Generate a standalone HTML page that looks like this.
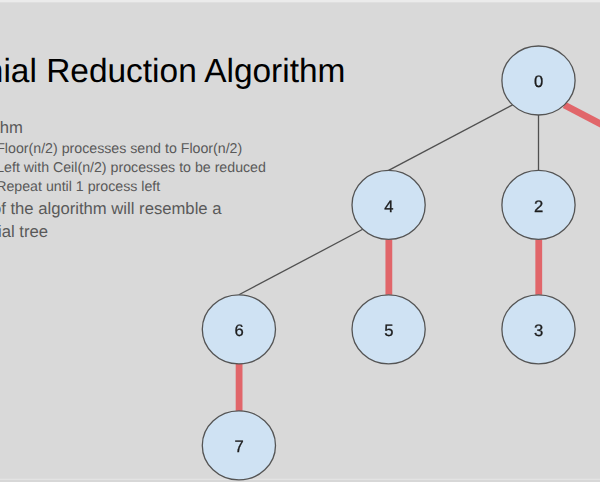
<!DOCTYPE html>
<html><head><meta charset="utf-8">
<style>
html,body{margin:0;padding:0;}
body{width:600px;height:482px;overflow:hidden;background:#d9d9d9;position:relative;font-family:"Liberation Sans",sans-serif;}
.t{position:absolute;white-space:nowrap;color:#595959;text-rendering:geometricPrecision;}
#title{color:#000;font-size:33.45px;right:254.6px;top:53.2px;line-height:38px;}
svg{position:absolute;left:0;top:0;}
.top{position:absolute;left:0;top:0;width:600px;height:3px;background:linear-gradient(#ebebeb 0,#ebebeb 2px,#dfdfdf 2px,#dfdfdf 3px);}
.bot{position:absolute;left:0;top:478px;width:600px;height:4px;background:linear-gradient(#dcdcdc 0,#dcdcdc 1px,#e3e3e3 1px,#e3e3e3 2px,#d7d7d7 2px,#d7d7d7 4px);}
</style></head><body>
<div class="top"></div>
<div class="t" id="title">Binomial Reduction Algorithm</div>
<div class="t" style="right:577px;top:117.6px;font-size:16.67px;line-height:19px;">Algorithm</div>
<div class="t" style="left:-3.8px;top:140.9px;font-size:14.2px;line-height:16px;">Floor(n/2) processes send to Floor(n/2)</div>
<div class="t" style="left:-3.8px;top:159.9px;font-size:14.2px;line-height:16px;">Left with Ceil(n/2) processes to be reduced</div>
<div class="t" style="left:-3.8px;top:178.9px;font-size:14.2px;line-height:16px;">Repeat until 1 process left</div>
<div class="t" style="right:378.5px;top:198.9px;font-size:16.67px;line-height:19px;">Shape of the algorithm will resemble a</div>
<div class="t" style="right:552px;top:222.2px;font-size:16.67px;line-height:19px;">binomial tree</div>
<div class="bot"></div>
<svg width="600" height="482" viewBox="0 0 600 482">
<defs><filter id="b" x="0" y="0" width="600" height="482" filterUnits="userSpaceOnUse"><feGaussianBlur stdDeviation="0.6"/></filter></defs>
<g stroke="#505050" stroke-width="1.3" fill="none">
<line x1="512.62" y1="104.90" x2="388.60" y2="170.40"/>
<line x1="538.50" y1="115.00" x2="538.50" y2="170.40"/>
<line x1="362.72" y1="229.30" x2="238.90" y2="294.80"/>
</g>
<g stroke="#e1666a" stroke-width="6.8" fill="none">
<line x1="564.38" y1="104.90" x2="688.50" y2="170.40"/>
<line x1="388.85" y1="239.40" x2="388.85" y2="294.80"/>
<line x1="538.75" y1="239.40" x2="538.75" y2="294.80"/>
<line x1="239.10" y1="363.80" x2="239.10" y2="410.90"/>
</g>
<g stroke="#545454" stroke-width="1.3" fill="#cfe2f3">
<ellipse cx="538.5" cy="80.5" rx="36.6" ry="34.5"/>
<ellipse cx="388.6" cy="204.9" rx="36.6" ry="34.5"/>
<ellipse cx="538.5" cy="204.9" rx="36.6" ry="34.5"/>
<ellipse cx="238.9" cy="329.3" rx="36.6" ry="34.5"/>
<ellipse cx="388.6" cy="329.3" rx="36.6" ry="34.5"/>
<ellipse cx="538.5" cy="329.3" rx="36.6" ry="34.5"/>
<ellipse cx="238.9" cy="445.4" rx="36.6" ry="34.5"/>
</g>
<g font-family="Liberation Sans, sans-serif" font-size="16.67" fill="#1c1c1c" stroke="#1c1c1c" stroke-width="0.3" text-anchor="middle" filter="url(#b)" text-rendering="geometricPrecision">
<text x="538.7" y="87.1">0</text>
<text x="388.8" y="211.5">4</text>
<text x="538.7" y="211.5">2</text>
<text x="239.1" y="335.9">6</text>
<text x="388.8" y="335.9">5</text>
<text x="538.7" y="335.9">3</text>
<text x="239.1" y="452.0">7</text>
</g>
</svg>
</body></html>
